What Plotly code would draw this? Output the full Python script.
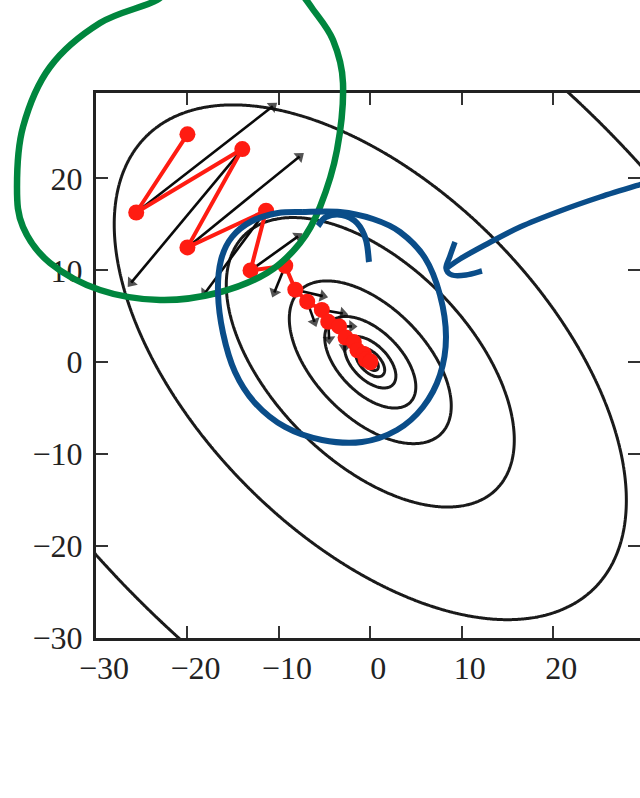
import numpy as np
import plotly.graph_objects as go

# ---------------- data ----------------
# quadratic bowl f(x, y) = a*x^2 + 2*b*x*y + a*y^2 (read from contour shapes)
coef_a = 0.001789
coef_b = 0.000959
log_levels = dict(start=-3.0, end=0.0, size=0.5)   # contours at 10^(k/2)
outer_level = 3.6                                  # corner contours

# momentum path (red)
path_x = [-20.0, -25.6, -14.0, -20.0, -11.4, -13.1, -9.3, -8.2, -6.9, -5.3, -4.6,
          -3.4, -2.7, -1.8, -1.4, -0.7, -0.5, 0.0, 0.0]
path_y = [24.8, 16.3, 23.2, 12.5, 16.5, 10.0, 10.5, 7.9, 6.6, 5.7, 4.4,
          3.9, 2.7, 2.2, 1.3, 0.9, 0.3, 0.1, 0.0]

# gradient-descent steps (black arrows): start point index -> tip
arrow_from = [1, 2, 3, 4, 5, 6, 7, 8, 9, 10, 11, 12]
arrow_tip_x = [-10.66, -26.15, -7.73, -18.1, -7.9, -10.5, -5.2, -6.1, -3.0, -4.5, -2.0, -2.8]
arrow_tip_y = [27.86, 8.66, 22.4, 7.5, 13.7, 7.6, 7.2, 4.4, 5.3, 2.5, 3.9, 1.6]

x_ticks = [-30, -20, -10, 0, 10, 20]
y_ticks = [-30, -20, -10, 0, 10, 20]

# hand-drawn marks (page pixels)
green_loop = [(172, -20), (157, 0), (100, 23), (50, 67), (23, 127), (17, 187), (23, 227),
              (50, 263), (100, 290), (160, 300), (217, 293), (267, 273), (300, 243),
              (320, 207), (337, 150), (343, 83), (333, 40), (312, 8), (295, -15)]
blue_loop = [(303, 212), (340, 212), (373, 219), (400, 232), (425, 258), (440, 295),
             (446, 337), (440, 375), (423, 407), (397, 430), (362, 442), (322, 440),
             (285, 427), (255, 403), (235, 372), (223, 333), (218, 293), (221, 260),
             (232, 237), (252, 221), (278, 213), (303, 212)]
blue_hook = [(318, 226), (326, 217), (342, 215), (357, 223), (366, 240), (369, 262)]
blue_arrow_shaft = [(645, 183), (600, 197), (560, 211), (520, 227), (485, 245),
                    (460, 259), (447, 268)]
blue_arrow_head = [(455, 242), (450, 256), (446, 268), (452, 275), (466, 275), (482, 271)]

# ---------------- figure ----------------
W, H = 640, 798
ML, MR, MT, MB = 96, 0, 93, 160
PW, PH = W - ML - MR, H - MT - MB
XR = [-30, 29.5]
YR = [-30, 29.3]

gx = np.linspace(-31, 31, 421)
gy = np.linspace(-31, 31, 421)
GX, GY = np.meshgrid(gx, gy)
F = coef_a * GX**2 + 2 * coef_b * GX * GY + coef_a * GY**2

ink = '#1a1a1a'
fig = go.Figure()
fig.add_trace(go.Contour(
    x=gx, y=gy, z=np.log10(F + 1e-9), autocontour=False,
    contours=dict(coloring='none', showlabels=False, **log_levels),
    line=dict(color=ink, width=3), showscale=False, hoverinfo='skip'))
fig.add_trace(go.Contour(
    x=gx, y=gy, z=F, autocontour=False,
    contours=dict(coloring='none', showlabels=False, start=outer_level,
                  end=outer_level, size=1),
    line=dict(color=ink, width=3), showscale=False, hoverinfo='skip'))

ax, ay, sizes = [], [], []
for i, tx, ty in zip(arrow_from, arrow_tip_x, arrow_tip_y):
    ax += [path_x[i], tx, None]
    ay += [path_y[i], ty, None]
    sizes += [0, 11, 0]
fig.add_trace(go.Scatter(
    x=ax, y=ay, mode='lines+markers',
    line=dict(color='#0a0a0a', width=2.6),
    marker=dict(symbol='triangle-up', angleref='previous', size=sizes, color='#0a0a0a',
                line=dict(width=0)),
    hoverinfo='skip', showlegend=False))

fig.add_trace(go.Scatter(
    x=path_x, y=path_y, mode='lines+markers',
    line=dict(color='rgb(255,28,18)', width=4),
    marker=dict(color='rgb(255,28,18)', size=16, line=dict(width=0)),
    hoverinfo='skip', showlegend=False))

# invisible trace so the right-hand tick axis is drawn
fig.add_trace(go.Scatter(x=[None], y=[None], yaxis='y2', showlegend=False,
                         hoverinfo='skip'))


def to_paper(pts):
    return [((px - ML) / PW, (MT + PH - py) / PH) for px, py in pts]


def smooth_path(pts):
    p = np.array(to_paper(pts))
    d = f"M {p[0][0]:.5f},{p[0][1]:.5f}"
    n = len(p)
    for i in range(n - 1):
        p0 = p[i - 1] if i > 0 else p[i]
        p1, p2 = p[i], p[i + 1]
        p3 = p[i + 2] if i + 2 < n else p[i + 1]
        c1 = p1 + (p2 - p0) / 6
        c2 = p2 - (p3 - p1) / 6
        d += (f" C {c1[0]:.5f},{c1[1]:.5f} {c2[0]:.5f},{c2[1]:.5f} "
              f"{p2[0]:.5f},{p2[1]:.5f}")
    return d


green = 'rgb(0,134,62)'
blue = 'rgb(10,77,137)'
shapes = []
for pts, col, w in [(green_loop, green, 6.5), (blue_loop, blue, 6), (blue_hook, blue, 6),
                    (blue_arrow_shaft, blue, 5.5), (blue_arrow_head, blue, 5.5)]:
    shapes.append(dict(type='path', xref='paper', yref='paper', path=smooth_path(pts),
                       line=dict(color=col, width=w), layer='above'))

tick_font = dict(family='Liberation Serif, DejaVu Serif, serif', size=32, color='#222')
axis_common = dict(showgrid=False, zeroline=False, ticks='inside', ticklen=12,
                   tickwidth=2, tickcolor='#333', showline=True, linewidth=3,
                   linecolor='#222', tickfont=tick_font)

fig.update_layout(
    width=W, height=H, margin=dict(l=ML, r=MR, t=MT, b=MB, pad=0),
    paper_bgcolor='white', plot_bgcolor='white', showlegend=False,
    xaxis=dict(range=XR, tickvals=x_ticks, mirror='ticks', ticklabelshift=8,
               ticklabelstandoff=0, **axis_common),
    yaxis=dict(range=YR, tickvals=y_ticks, ticklabelstandoff=4, **axis_common),
    yaxis2=dict(range=YR, overlaying='y', side='right', anchor='x', tickvals=y_ticks,
                showticklabels=False, showline=False, showgrid=False, zeroline=False,
                ticks='inside', ticklen=12, tickwidth=2, tickcolor='#333'),
    shapes=shapes,
)

fig.write_html("out.html")
